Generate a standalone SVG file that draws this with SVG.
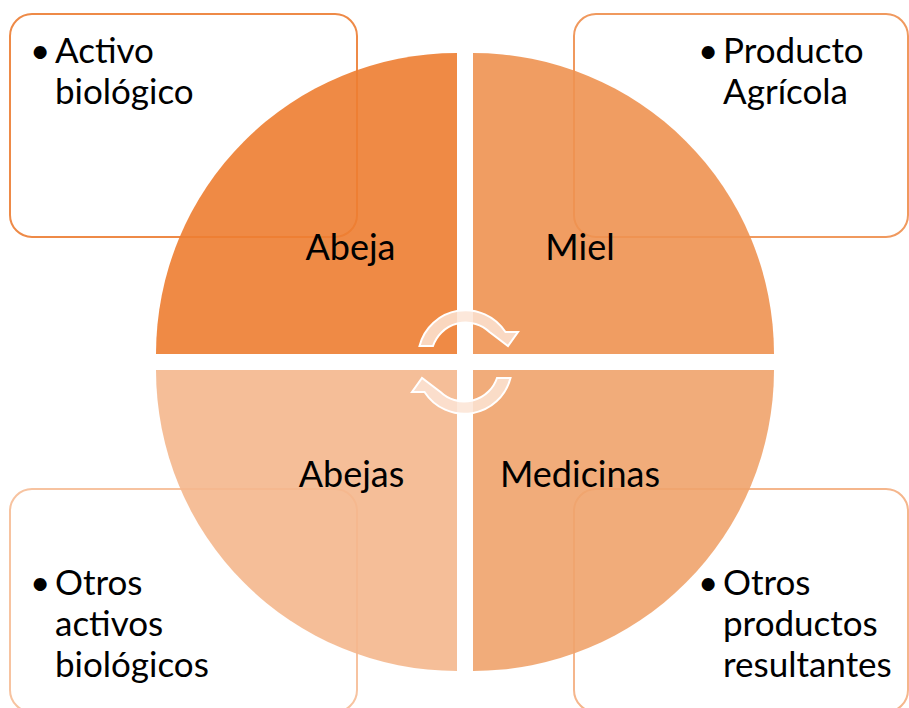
<svg xmlns="http://www.w3.org/2000/svg" width="909" height="708" viewBox="0 0 909 708">
<style>
.txt{font-family:Lato,"Open Sans","Liberation Sans",sans-serif;font-size:35px;fill:#000}
.lbl{font-family:Lato,"Open Sans","Liberation Sans",sans-serif;font-size:36px;fill:#000;text-anchor:middle}
.box{fill:#fff;stroke-width:2}
.q{opacity:0.9}
.arr{fill:#fbe4d5;fill-opacity:0.85;stroke:#fff;stroke-width:2;stroke-linejoin:miter}
</style>
<rect width="909" height="708" fill="#fff"/>
<g id="box-tl">
<rect class="box" x="10" y="14" width="347" height="223" rx="22" stroke="#ee8a47"/>
<text class="txt"><tspan x="30" y="63">•</tspan><tspan x="55" y="63">Activo</tspan><tspan x="55" y="104">biológico</tspan></text>
</g>
<g id="box-tr">
<rect class="box" x="574" y="14" width="334" height="223" rx="22" stroke="#f0995e"/>
<text class="txt"><tspan x="698" y="63">•</tspan><tspan x="723" y="63">Producto</tspan><tspan x="723" y="104">Agrícola</tspan></text>
</g>
<g id="box-bl">
<rect class="box" x="10" y="489" width="347" height="223" rx="22" stroke="#f7c3a0"/>
<text class="txt"><tspan x="30" y="595">•</tspan><tspan x="55" y="595">Otros</tspan><tspan x="55" y="636">activos</tspan><tspan x="55" y="677">biológicos</tspan></text>
</g>
<g id="box-br">
<rect class="box" x="574" y="489" width="334" height="223" rx="22" stroke="#f5b68c"/>
<text class="txt"><tspan x="698" y="595">•</tspan><tspan x="723" y="595">Otros</tspan><tspan x="723" y="636">productos</tspan><tspan x="723" y="677">resultantes</tspan></text>
</g>
<g id="q-tl">
<path class="q" fill="#ed7d31" d="M457,354 L156,354 A301,301 0 0 1 457,53 Z"/>
</g>
<g id="q-tr">
<path class="q" fill="#ee9251" d="M473,354 L473,53 A301,301 0 0 1 774,354 Z"/>
</g>
<g id="q-br">
<path class="q" fill="#f0a36b" d="M473,370 L774,370 A301,301 0 0 1 473,671 Z"/>
</g>
<g id="q-bl">
<path class="q" fill="#f4b78d" d="M457,370 L457,671 A301,301 0 0 1 156,370 Z"/>
</g>
<g id="connectors">
<path class="arr" d="M419.5,346 A47.5,47.5 0 0 1 505.5,332 L518,332 L508,346 L489.5,332 A34.5,34.5 0 0 0 433,346 Z"/>
<path class="arr" transform="rotate(180 465 362)" d="M419.5,346 A47.5,47.5 0 0 1 505.5,332 L518,332 L508,346 L489.5,332 A34.5,34.5 0 0 0 433,346 Z"/>
</g>
<g id="labels">
<text class="lbl" x="350.5" y="260">Abeja</text>
<text class="lbl" x="580" y="260">Miel</text>
<text class="lbl" x="351.5" y="487">Abejas</text>
<text class="lbl" x="580" y="487">Medicinas</text>
</g>
</svg>
